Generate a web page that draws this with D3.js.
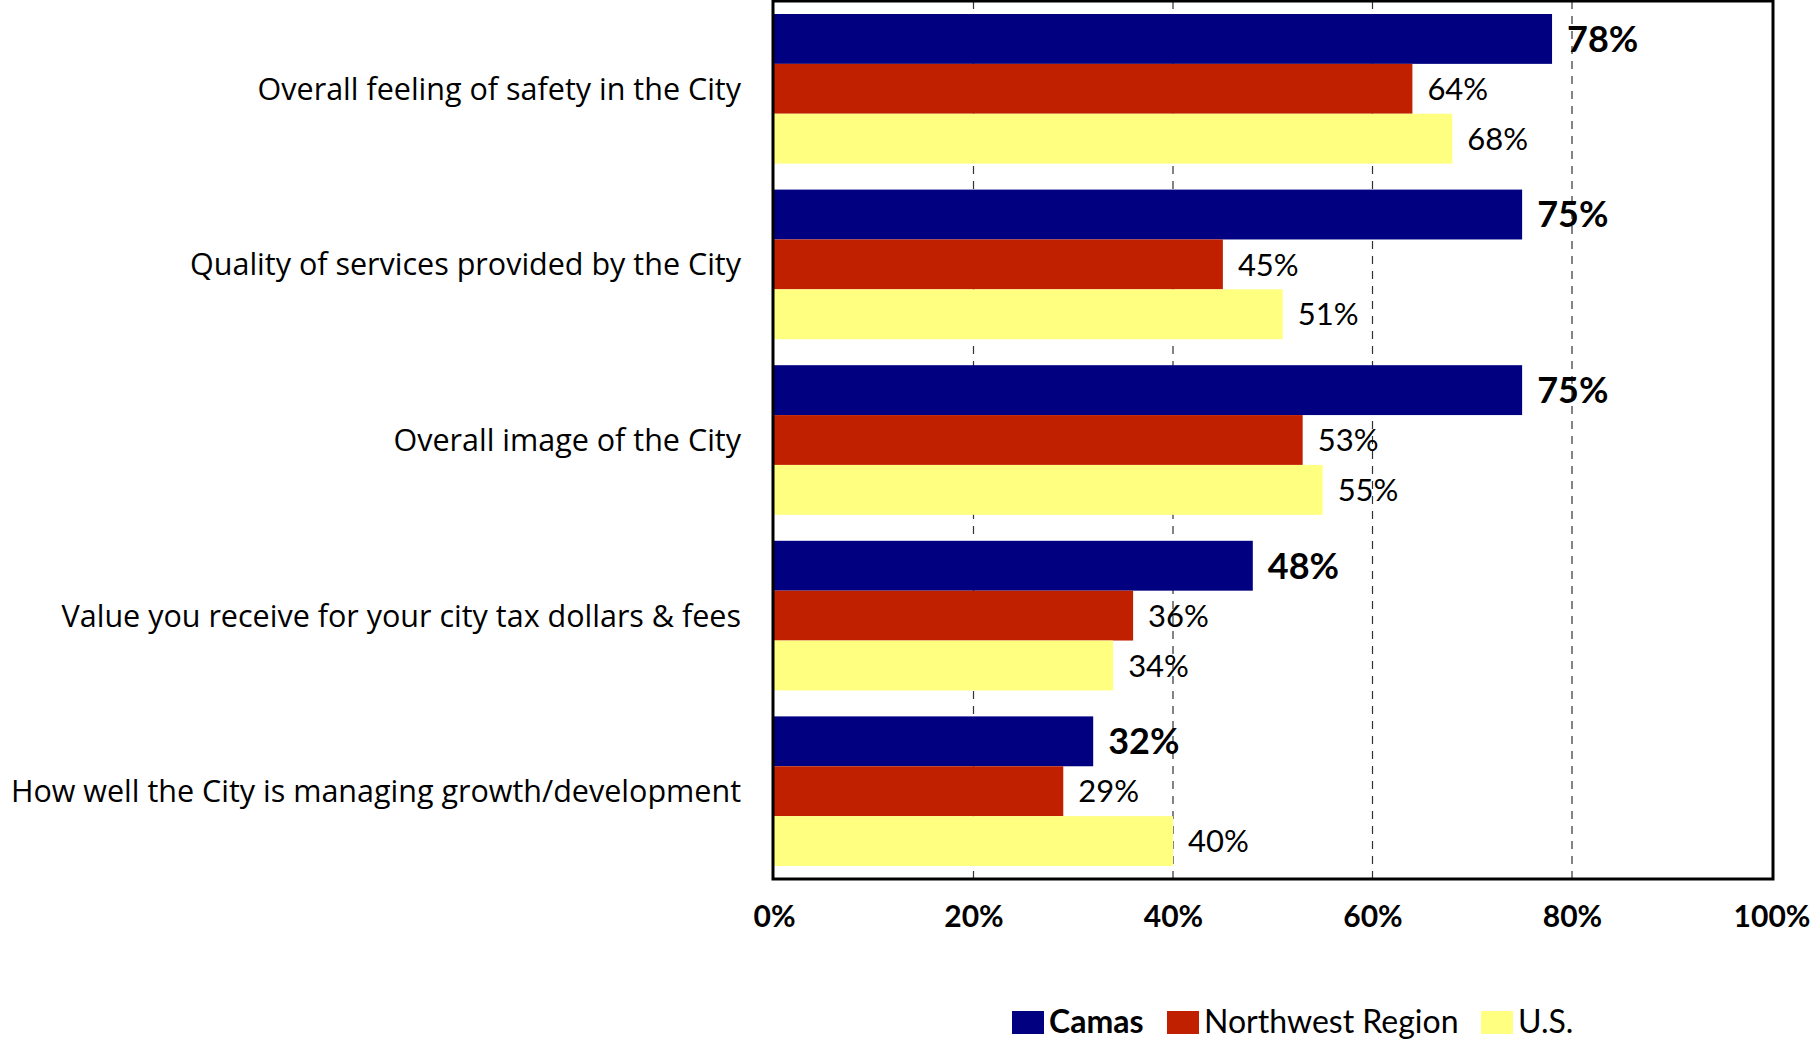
<!DOCTYPE html>
<html><head><meta charset="utf-8">
<script src="https://cdn.jsdelivr.net/npm/d3@7"></script>
<style>body{margin:0;background:#fff} svg{display:block}</style>
</head><body><svg id="chart" width="1812" height="1042"></svg>
<script>
// Satisfaction ratings: Camas vs. Northwest Region vs. U.S.
const categories = [
  "Overall feeling of safety in the City",
  "Quality of services provided by the City",
  "Overall image of the City",
  "Value you receive for your city tax dollars & fees",
  "How well the City is managing growth/development"
];
const seriesNames = ["Camas", "Northwest Region", "U.S."];
const camas = [78, 75, 75, 48, 32];
const northwest = [64, 45, 53, 36, 29];
const us = [68, 51, 55, 34, 40];
const tickValues = [0, 20, 40, 60, 80, 100];
const tickLabels = ["0%", "20%", "40%", "60%", "80%", "100%"];
const colors = ["#000080", "#C02000", "#FFFF80"];

const seriesValues = [camas, northwest, us];
const FONT = "Lato, 'Open Sans', sans-serif";
const LABEL_FONT = "'Open Sans', Lato, sans-serif";

const svg = d3.select("#chart");
const plot = { left: 774, right: 1771.5, top: 1, bottom: 879 };

const x = d3.scaleLinear().domain([0, 100]).range([plot.left, plot.right]);
const y = d3.scaleBand().domain(categories).range([plot.top, plot.bottom])
  .paddingInner(0.148).paddingOuter(0.074);
const ySub = d3.scaleBand().domain(seriesNames).range([0, y.bandwidth()]);

// dashed gridlines
svg.append("g").selectAll("line")
  .data(tickValues.filter(v => v > 0 && v < 100))
  .join("line")
  .attr("x1", d => x(d)).attr("x2", d => x(d))
  .attr("y1", plot.top).attr("y2", plot.bottom)
  .attr("stroke", "#333").attr("stroke-width", 1.2)
  .attr("stroke-dasharray", "8,7");

// bars
const rows = categories.map((c, i) => ({ cat: c, vals: seriesNames.map((s, j) => ({ s, j, v: seriesValues[j][i] })) }));
const groups = svg.append("g").selectAll("g")
  .data(rows).join("g")
  .attr("transform", d => `translate(0,${y(d.cat)})`);

groups.selectAll("rect")
  .data(d => d.vals).join("rect")
  .attr("x", x(0))
  .attr("y", d => ySub(d.s))
  .attr("width", d => x(d.v) - x(0))
  .attr("height", ySub.bandwidth())
  .attr("fill", d => colors[d.j]);

// value labels
groups.selectAll("text")
  .data(d => d.vals).join("text")
  .attr("x", d => x(d.v) + 15)
  .attr("y", d => ySub(d.s) + ySub.bandwidth() / 2)
  .attr("dy", "0.36em")
  .attr("font-family", FONT)
  .attr("font-size", d => d.j === 0 ? 36 : 31)
  .attr("font-weight", d => d.j === 0 ? "bold" : "normal")
  .attr("fill", "#000")
  .text(d => d.v + "%");

// frame
svg.append("rect")
  .attr("x", plot.left - 1).attr("y", plot.top)
  .attr("width", plot.right - plot.left + 2.5).attr("height", plot.bottom - plot.top)
  .attr("fill", "none").attr("stroke", "#000").attr("stroke-width", 3);

// category labels
svg.append("g").selectAll("text")
  .data(categories).join("text")
  .attr("x", 741)
  .attr("y", d => y(d) + y.bandwidth() / 2)
  .attr("dy", "0.36em")
  .attr("text-anchor", "end")
  .attr("font-family", LABEL_FONT)
  .attr("font-size", 30.5)
  .attr("fill", "#000")
  .text(d => d);

// x axis
const xAxis = d3.axisBottom(x).tickValues(tickValues)
  .tickFormat((d, i) => tickLabels[i]).tickSize(0);
const ax = svg.append("g").attr("transform", `translate(0,${plot.bottom})`).call(xAxis);
ax.select(".domain").remove();
ax.selectAll("text")
  .attr("y", 48).attr("dy", 0)
  .attr("font-family", FONT).attr("font-size", 30).attr("font-weight", "bold")
  .attr("fill", "#000");

// legend
const legendItems = [
  { name: seriesNames[0], x: 1012, bold: true },
  { name: seriesNames[1], x: 1167, bold: false },
  { name: seriesNames[2], x: 1481, bold: false }
];
const lg = svg.append("g").selectAll("g").data(legendItems).join("g")
  .attr("transform", d => `translate(${d.x},1011)`);
lg.append("rect").attr("width", 32).attr("height", 23)
  .attr("fill", (d, i) => colors[i]);
lg.append("text").attr("x", 37).attr("y", 22)
  .attr("font-family", FONT).attr("font-size", 32)
  .attr("font-weight", d => d.bold ? "bold" : "normal")
  .attr("fill", "#000")
  .text(d => d.name);
</script>
</body></html>
